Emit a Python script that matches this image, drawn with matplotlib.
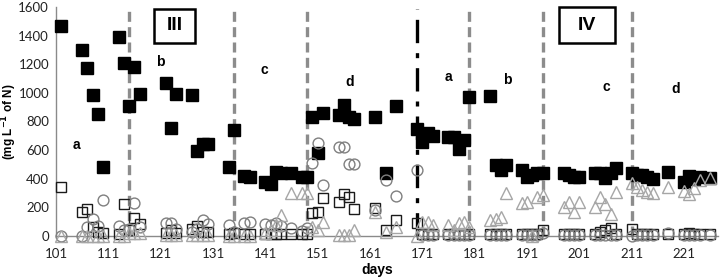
import numpy as np
import matplotlib
matplotlib.use("Agg")
import matplotlib.pyplot as plt
from matplotlib.patches import Rectangle

days = [102,106,107,108,109,110,113,114,115,116,117,122,123,124,127,128,129,130,134,135,137,138,
        141,142,143,144,146,148,149,150,151,152,155,156,157,158,162,164,166,170,171,172,173,
        176,177,178,179,180,184,185,186,187,190,191,192,193,194,198,199,200,201,204,205,206,207,208,
        211,212,213,214,215,218,221,222,223,224,226]

filled_sq = [1470,1300,1172,985,850,484,1388,1211,908,1183,990,1071,757,992,985,594,643,643,480,741,419,414,
             380,361,449,438,442,414,414,829,582,862,846,915,834,818,834,438,911,746,659,718,699,
             694,690,608,671,974,978,496,461,496,461,414,426,438,442,438,426,414,410,442,438,403,438,473,
             438,426,426,414,396,449,380,419,396,410,403]

open_sq = [345,165,186,65,25,20,15,224,40,124,84,20,40,20,50,70,30,25,15,20,15,15,
           15,15,15,15,15,15,15,159,166,263,240,291,275,187,194,42,112,93,15,15,15,
           15,15,15,15,15,15,15,15,15,15,15,15,15,40,15,15,15,15,15,25,40,54,15,
           47,15,15,15,15,15,15,20,15,15,15]

circles = [0,0,60,117,70,250,70,40,50,228,60,93,93,50,30,50,112,84,77,30,93,100,
           84,79,88,70,58,37,58,508,652,356,624,624,503,503,180,391,280,461,10,10,10,
           10,10,10,10,10,10,10,10,10,10,10,10,10,20,10,10,10,10,10,10,10,10,10,
           0,10,10,10,10,20,10,10,10,10,10]

triangles = [0,0,0,0,0,0,0,0,20,20,20,10,10,10,10,10,10,10,0,0,0,0,
             20,40,80,147,298,298,298,60,40,95,5,5,5,40,170,30,60,0,100,100,80,
             77,40,93,100,60,112,117,135,298,233,240,0,275,287,200,240,170,240,205,275,222,157,310,
             372,340,321,310,303,340,317,294,333,391,403]

phase_lines = [115, 135, 149, 180, 194, 211]
period_line = 170
phase_labels = ["a", "b", "c", "d", "a", "b", "c", "d"]
phase_label_x = [105.0, 120.9, 140.9, 157.2, 175.9, 187.2, 206.1, 219.4]
phase_label_y = [636, 1216, 1160, 1076, 1111, 1090, 1041, 1027]
period_labels = ["III", "IV"]

fig = plt.figure(figsize=(7.22, 2.77), dpi=100)
ax = fig.add_axes([56/722, 41/277, 662/722, 229/277])

ax.set_xlim(101, 227.5)
ax.set_ylim(0, 1600)
ax.set_xticks(np.arange(101, 222, 10))
ax.set_yticks(np.arange(0, 1601, 200))

for lab in ax.get_xticklabels() + ax.get_yticklabels():
    lab.set_fontfamily("Lato")
    lab.set_fontsize(9.5)
ax.tick_params(axis="y", length=0, pad=5, colors="#222222")
ax.tick_params(axis="x", length=0, pad=9, colors="#222222")
for s in ["top", "right"]:
    ax.spines[s].set_visible(False)
for s in ["left", "bottom"]:
    ax.spines[s].set_color("#8a8a8a")
    ax.spines[s].set_linewidth(1.0)

for d in phase_lines:
    ax.axvline(d, ymin=0, ymax=0.99, color="#8c8c8c", lw=2.4, ls=(0, (3, 1.6)), zorder=1)
ax.axvline(period_line, ymin=0, ymax=0.99, color="black", lw=2.4, ls=(0, (7, 3, 1.5, 3)), zorder=1)

ax.plot(days, filled_sq, ls="none", marker="s", ms=8.3, mfc="black", mec="black", zorder=3, clip_on=False)
ax.plot(days, open_sq, ls="none", marker="s", ms=7.5, mfc="none", mec="#1a1a1a", mew=1.0, zorder=4, clip_on=False)
ax.plot(days, circles, ls="none", marker="o", ms=7.8, mfc="none", mec="#7f7f7f", mew=1.0, zorder=5, clip_on=False)
ax.plot(days, triangles, ls="none", marker="^", ms=8.5, mfc="none", mec="#a6a6a6", mew=1.0, zorder=6, clip_on=False)

for t, x, y in zip(phase_labels, phase_label_x, phase_label_y):
    ax.text(x, y, t, ha="center", va="center", fontsize=10, fontweight="bold",
            family="Liberation Sans", zorder=7)

boxes = [(154, 9, 41, 34), (559, 7, 56, 36)]
for (bx, by, bw, bh), lab in zip(boxes, period_labels):
    r = Rectangle((bx/722, 1 - (by + bh)/277), bw/722, bh/277, transform=fig.transFigure,
                  fill=False, ec="black", lw=1.8)
    fig.add_artist(r)
    fig.text((bx + bw/2)/722, 1 - (by + bh/2)/277, lab, ha="center", va="center",
             fontsize=14, fontweight="bold", family="Liberation Sans")

fig.text(9.5/722, 1 - 122/277, "(mg L$^{\\mathbf{-1}}$ of N)", rotation=90, ha="center", va="center",
         fontsize=8.5, fontweight="bold", family="Liberation Sans")
fig.text(377/722, 1 - 270/277, "days", ha="center", va="center",
         fontsize=10, fontweight="bold", family="Liberation Sans")

fig.savefig("out.png", dpi=100)
